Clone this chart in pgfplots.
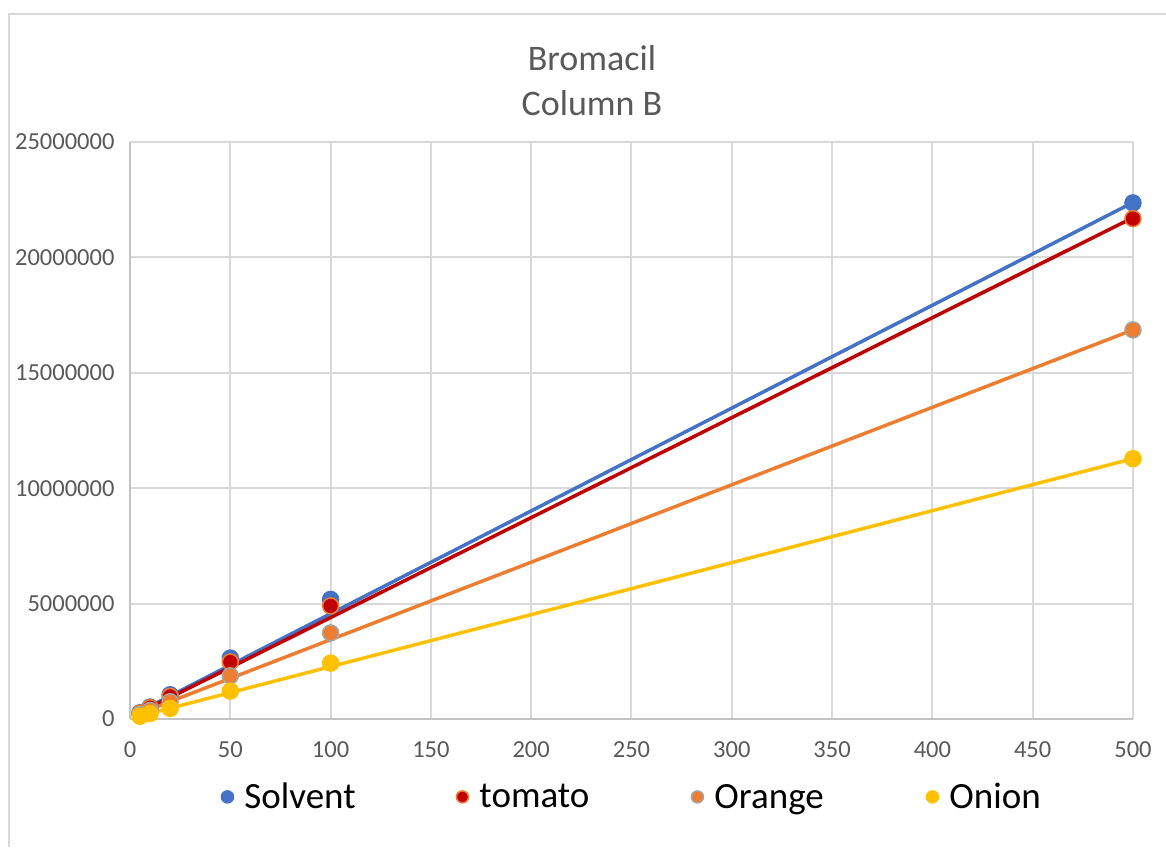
\documentclass[border=0pt]{standalone}
\usepackage{fontspec}
\setmainfont{Carlito}
\usepackage{pgfplots}
\pgfplotsset{compat=1.18}
\definecolor{cblue}{HTML}{4472C4}
\definecolor{cred}{HTML}{C00000}
\definecolor{corange}{HTML}{ED7D31}
\definecolor{cgray}{HTML}{A5A5A5}
\definecolor{cyellow}{HTML}{FFC000}
\definecolor{txt}{HTML}{595959}
\definecolor{gridc}{HTML}{D9D9D9}
\begin{document}
\begin{tikzpicture}[x=1pt,y=1pt]
\useasboundingbox (0,0) rectangle (1166,847);
% chart frame (cropped)
\draw[gridc, line width=2pt] (9,0) -- (9,833) -- (1166,833);
\node[txt, font=\fontsize{36}{45}\selectfont, align=center] at (592,766) {Bromacil\\Column B};
\begin{axis}[
  at={(130pt,128pt)}, anchor=south west,
  scale only axis, width=1003pt, height=577pt,
  xmin=0, xmax=500, ymin=0, ymax=25000000,
  xtick={0,50,...,500},
  ytick={0,5000000,10000000,15000000,20000000,25000000},
  scaled y ticks=false,
  /pgf/number format/assume math mode=true,
  /pgf/number format/fixed, /pgf/number format/1000 sep={},
  tick label style={txt, font=\fontsize{24.5}{28}\selectfont},
  xticklabel style={yshift=-19pt},
  yticklabel style={xshift=-12pt},
  major tick length=0pt,
  grid=major, grid style={gridc, line width=2pt},
  axis lines*=left, axis line style={gridc!75!gray, line width=2pt},
  legend columns=4,
  legend style={draw=none, fill=none, at={(rel axis cs:0.088,-0.135)}, anchor=west,
    font=\fontsize{37}{44}\selectfont,
    /tikz/every even column/.append style={column sep=0pt},
    /tikz/every odd column/.append style={column sep=9pt}},
  legend image post style={mark size=6pt},
]
% trendlines
\addplot[cblue, line width=3.5pt, forget plot] coordinates {(5,330000) (500,22380000)};
\addplot[cred, line width=3.5pt, forget plot] coordinates {(5,280000) (500,21720000)};
\addplot[corange, line width=3.5pt, forget plot] coordinates {(5,250000) (500,16860000)};
\addplot[cyellow, line width=3.5pt, forget plot] coordinates {(5,130000) (500,11280000)};
% data points
\addplot[only marks, mark=*, mark size=8pt, draw=cblue, fill=cblue, line width=1.5pt] coordinates {
(5,270000) (10,520000) (20,1050000) (50,2640000) (100,5180000) (500,22360000)};
\addlegendentry{\makebox[210pt][l]{Solvent}}
\addplot[only marks, mark=*, mark size=8pt, draw=corange, fill=cred, line width=1.5pt] coordinates {
(5,250000) (10,490000) (20,980000) (50,2470000) (100,4900000) (500,21680000)};
\addlegendentry{\makebox[210pt][l]{tomato}}
\addplot[only marks, mark=*, mark size=8pt, draw=cgray, fill=corange, line width=1.5pt] coordinates {
(5,190000) (10,370000) (20,750000) (50,1870000) (100,3730000) (500,16860000)};
\addlegendentry{\makebox[210pt][l]{Orange}}
\addplot[only marks, mark=*, mark size=8pt, draw=cyellow, fill=cyellow, line width=1.5pt] coordinates {
(5,120000) (10,240000) (20,460000) (50,1210000) (100,2420000) (500,11280000)};
\addlegendentry{Onion}
\end{axis}
\end{tikzpicture}
\end{document}
